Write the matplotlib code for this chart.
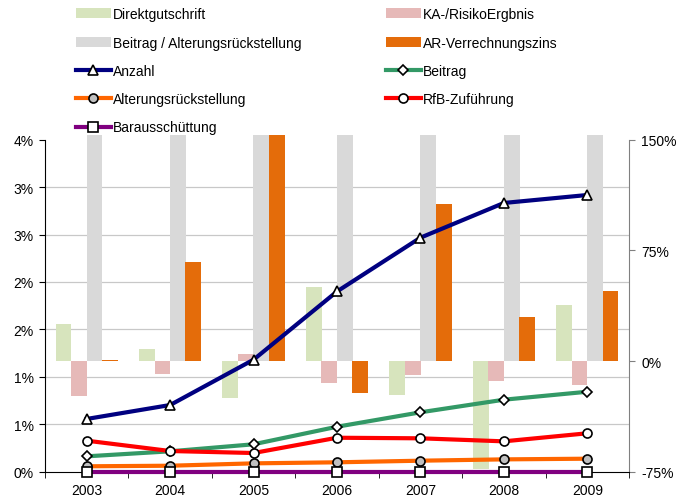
import numpy as np
import matplotlib
matplotlib.use("Agg")
import matplotlib.pyplot as plt
from matplotlib.patches import Patch
from matplotlib.lines import Line2D
from matplotlib.ticker import FixedLocator, FuncFormatter, MultipleLocator

plt.rcParams['font.family'] = ['Liberation Sans', 'DejaVu Sans']
plt.rcParams['font.size'] = 10

years = ["2003", "2004", "2005", "2006", "2007", "2008", "2009"]

# bar series (right axis, %)
direktgutschrift = [25.3, 8.3, -25.3, 50.3, -22.8, -73.0, 38.1]
ka_risiko = [-24.0, -8.6, 4.9, -14.7, -9.3, -13.8, -16.0]
beitrag_ar = [153, 153, 153, 153, 153, 153, 153]
ar_zins = [0.7, 67.3, 153, -21.5, 106.6, 30.0, 47.6]

# line series (left axis, fraction)
anzahl = [0.00556, 0.00703, 0.01181, 0.0190, 0.02467, 0.02833, 0.02917]
beitrag = [0.00162, 0.00215, 0.00289, 0.00474, 0.00626, 0.00759, 0.00843]
alterung = [0.00057, 0.00063, 0.00088, 0.00099, 0.00116, 0.00130, 0.00137]
rfb = [0.00327, 0.00218, 0.00197, 0.00358, 0.00352, 0.00320, 0.00405]
barausschuettung = [0.0, 0.0, 0.0, 0.0, 0.0, 0.0, 0.0]

bar_names = ["Direktgutschrift", "KA-/RisikoErgbnis", "Beitrag / Alterungsrückstellung", "AR-Verrechnungszins"]
bar_colors = ["#D7E4BD", "#E6B9B8", "#D9D9D9", "#E46C0A"]
line_names = ["Anzahl", "Beitrag", "Alterungsrückstellung", "RfB-Zuführung", "Barausschüttung"]
line_colors = ["#000080", "#339966", "#FF6600", "#FF0000", "#800080"]
line_markers = ["^", "D", "o", "o", "s"]
line_mfc = ["white", "white", "#C0C0C0", "white", "white"]
line_ms = [7.5, 5.5, 6.5, 6.5, 6.5]

L_LO, L_HI = 0.0, 0.035
R_LO, R_HI = -75, 150

fig = plt.figure(figsize=(6.83, 5.02), dpi=100)
ax = fig.add_axes([45/683, 1 - 472.7/502, (629-45)/683, (472.7-140.7)/502])
ax2 = ax.twinx()

x = np.arange(len(years))
w = 0.19
step = 0.185
bar_data = [direktgutschrift, ka_risiko, beitrag_ar, ar_zins]
for i, (vals, col) in enumerate(zip(bar_data, bar_colors)):
    ax2.bar(x + (i - 1.5) * step, vals, width=w, color=col, linewidth=0, clip_on=False, zorder=2)

ax2.set_ylim(R_LO, R_HI)
ax2.set_yticks([-75, 0, 75, 150])
ax2.yaxis.set_major_formatter(FuncFormatter(lambda v, p: f"{int(round(v))}%"))
# gridlines derived from the left axis ticks
left_ticks = np.arange(L_LO, L_HI + 1e-9, 0.005)
mapped = R_LO + (left_ticks - L_LO) / (L_HI - L_LO) * (R_HI - R_LO)
ax2.yaxis.set_minor_locator(FixedLocator(mapped))
ax2.grid(which='minor', axis='y', color='#C8C8C8', linewidth=0.9, zorder=0)
ax2.set_axisbelow(True)
ax2.tick_params(axis='y', which='minor', length=0)
ax2.tick_params(axis='y', which='major', direction='out', length=4, color='#808080', pad=5, labelsize=10)
for s in ['left', 'top', 'bottom']:
    ax2.spines[s].set_visible(False)
ax2.spines['right'].set_color('#808080')

# lines on left axis
data_lines = [anzahl, beitrag, alterung, rfb, barausschuettung]
for vals, col, mk, mfc, ms in zip(data_lines, line_colors, line_markers, line_mfc, line_ms):
    ax.plot(x, vals, color=col, lw=3, marker=mk, markerfacecolor=mfc,
            markeredgecolor='black', markeredgewidth=1.2, markersize=ms, clip_on=False, zorder=3)

ax.set_zorder(ax2.get_zorder() + 1)
ax.patch.set_visible(False)
ax.set_ylim(L_LO, L_HI)
ax.yaxis.set_major_locator(MultipleLocator(0.005))
ax.yaxis.set_major_formatter(FuncFormatter(lambda v, p: f"{int(np.floor(v*100 + 0.5 + 1e-9))}%"))
ax.set_xlim(-0.5, len(years) - 0.5)
ax.set_xticks(x)
ax.set_xticklabels(years)
ax.xaxis.set_minor_locator(FixedLocator(np.arange(-0.5, len(years), 1.0)))
ax.tick_params(axis='x', which='major', length=0, pad=8, labelsize=10)
ax.tick_params(axis='x', which='minor', length=4, direction='out', color='black')
ax.tick_params(axis='y', which='major', length=4, direction='out', color='black', pad=4, labelsize=10)
ax.spines['top'].set_visible(False)
ax.spines['right'].set_visible(False)
ax.spines['left'].set_color('black')
ax.spines['bottom'].set_color('black')

# legend
def line_handle(i):
    return Line2D([], [], color=line_colors[i], lw=3, marker=line_markers[i],
                  markerfacecolor=line_mfc[i], markeredgecolor='black',
                  markeredgewidth=1.2, markersize=line_ms[i])

h1 = [Patch(facecolor=bar_colors[0], edgecolor='none'), Patch(facecolor=bar_colors[2], edgecolor='none'),
      line_handle(0), line_handle(2), line_handle(4)]
l1 = [bar_names[0], bar_names[2], line_names[0], line_names[2], line_names[4]]
h2 = [Patch(facecolor=bar_colors[1], edgecolor='none'), Patch(facecolor=bar_colors[3], edgecolor='none'),
      line_handle(1), line_handle(3)]
l2 = [bar_names[1], bar_names[3], line_names[1], line_names[3]]

common = dict(loc='upper left', frameon=False, borderpad=0, borderaxespad=0,
              handlelength=2.5, handletextpad=0.15, labelspacing=1.03, fontsize=10, numpoints=1)
fig.legend(h1, l1, bbox_to_anchor=(76/683, 1 - 8.2/502), **common)
fig.legend(h2, l2, bbox_to_anchor=(386/683, 1 - 8.2/502), **common)

fig.savefig("out.png", dpi=100)
